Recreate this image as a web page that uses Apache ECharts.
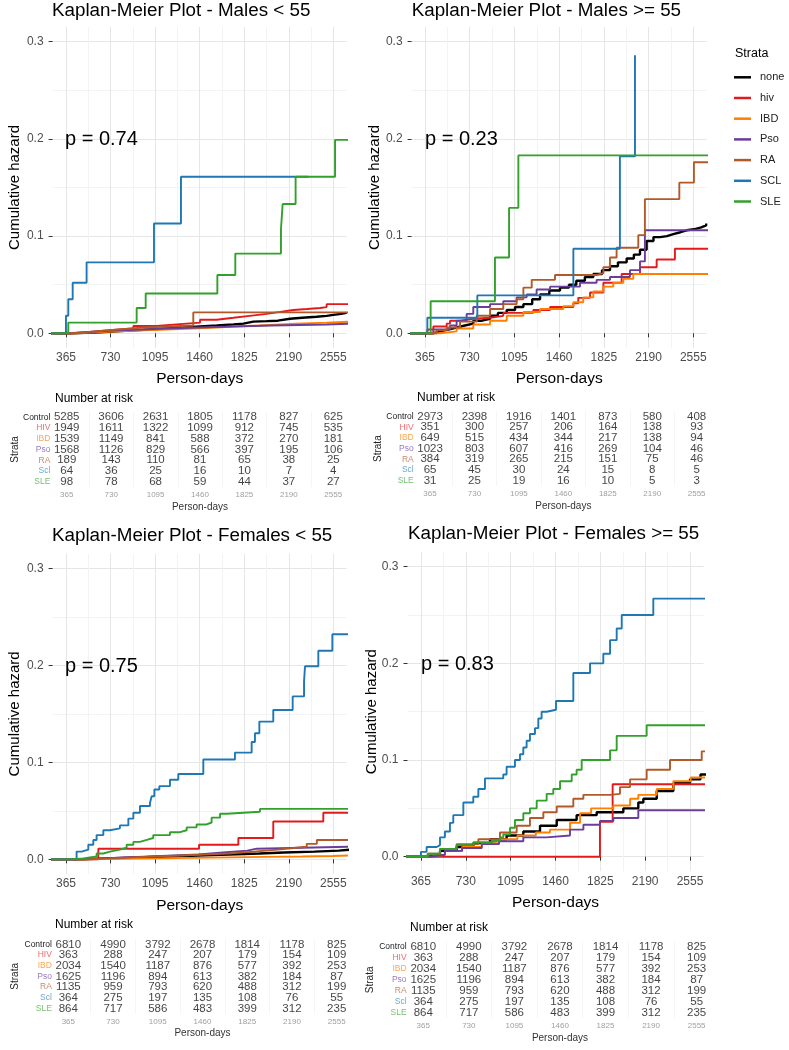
<!DOCTYPE html>
<html><head><meta charset="utf-8">
<script src="https://cdn.jsdelivr.net/npm/echarts@6/dist/echarts.min.js"></script>
<style>html,body{margin:0;padding:0;background:#fff}#c{width:789px;height:1050px}</style>
</head><body><div id="c"></div>
<script>
// ---------- ticks / categories ----------
const TIMES = [365, 730, 1095, 1460, 1825, 2190, 2555];
const MINOR_TIMES = [547.5, 912.5, 1277.5, 1642.5, 2007.5, 2372.5];
const Y_TICKS = [0, 0.1, 0.2, 0.3];
const Y_MINOR = [0.05, 0.15, 0.25];
const STRATA = ['none', 'hiv', 'IBD', 'Pso', 'RA', 'SCL', 'SLE'];
const RISK_ROWS = ['Control', 'HIV', 'IBD', 'Pso', 'RA', 'Scl', 'SLE'];
const PANEL_TITLES = ['Kaplan-Meier Plot - Males < 55', 'Kaplan-Meier Plot - Males >= 55',
  'Kaplan-Meier Plot - Females < 55', 'Kaplan-Meier Plot - Females >= 55'];
const P_VALUES = ['p = 0.74', 'p = 0.23', 'p = 0.75', 'p = 0.83'];

// ---------- cumulative hazard curves: [person-days, cumulative hazard] ----------
const malesU55_none = [[0,0],[420,0.001],[644,0.002],[780,0.003],[917,0.004],[1050,0.005],[1190,0.006],[1330,0.007],[1463,0.008],[1600,0.009],[1736,0.010],[1818,0.012],[1900,0.0125],[2009,0.013],[2100,0.015],[2200,0.016],[2300,0.017],[2418,0.018],[2500,0.019],[2555,0.020],[2620,0.021],[2660,0.022]];
const malesU55_hiv = [[0,0],[420,0.001],[520,0.002],[600,0.003],[700,0.004],[800,0.005],[917,0.0075],[1108,0.0095],[1299,0.011],[1463,0.014],[1600,0.016],[1736,0.018],[1870,0.020],[2009,0.022],[2120,0.024],[2227,0.025],[2340,0.026],[2446,0.027],[2500,0.030],[2700,0.030]];
const malesU55_IBD = [[0,0],[450,0.001],[600,0.002],[800,0.003],[1000,0.004],[1190,0.005],[1400,0.006],[1600,0.007],[1736,0.008],[1950,0.010],[2250,0.011],[2500,0.012],[2700,0.012]];
const malesU55_Pso = [[0,0],[400,0.001],[520,0.002],[644,0.003],[800,0.004],[1000,0.005],[1190,0.006],[1450,0.007],[1736,0.008],[2050,0.009],[2500,0.010],[2700,0.010]];
const malesU55_RA = [[0,0],[420,0.002],[600,0.004],[800,0.006],[1000,0.007],[1200,0.008],[1408,0.0215],[2700,0.0215]];
const malesU55_SCL = [[0,0],[365,0.018],[384,0.035],[420,0.052],[534,0.073],[1086,0.113],[1307,0.161],[2350,0.161]];
const malesU55_SLE = [[0,0],[384,0.011],[944,0.026],[1018,0.041],[1605,0.060],[1752,0.082],[2126,0.107],[2140,0.133],[2246,0.161],[2569,0.199],[2700,0.199]];

const malesO55_none = [[0,0],[430,0.002],[487,0.004],[560,0.006],[623,0.008],[690,0.010],[759,0.013],[830,0.015],[896,0.018],[960,0.021],[1032,0.024],[1100,0.027],[1168,0.030],[1240,0.035],[1304,0.040],[1380,0.044],[1467,0.047],[1540,0.050],[1600,0.054],[1670,0.058],[1739,0.061],[1810,0.065],[1875,0.069],[1940,0.073],[2011,0.077],[2070,0.081],[2120,0.086],[2174,0.095],[2230,0.099],[2283,0.100],[2340,0.102],[2392,0.104],[2450,0.106],[2501,0.107],[2560,0.109],[2620,0.111],[2660,0.113]];
const malesO55_hiv = [[0,0],[384,0.004],[433,0.007],[542,0.010],[569,0.013],[651,0.015],[759,0.016],[896,0.018],[1004,0.021],[1249,0.024],[1386,0.027],[1576,0.031],[1616,0.0365],[1712,0.042],[1821,0.052],[1970,0.061],[2120,0.068],[2256,0.076],[2405,0.087],[2700,0.087]];
const malesO55_IBD = [[0,0],[487,0.002],[623,0.005],[759,0.009],[896,0.013],[1032,0.018],[1168,0.022],[1304,0.025],[1494,0.028],[1576,0.032],[1657,0.037],[1739,0.043],[1821,0.048],[1902,0.052],[1984,0.056],[2065,0.061],[2700,0.061]];
const malesO55_Pso = [[0,0],[433,0.004],[569,0.008],[623,0.013],[705,0.020],[759,0.027],[896,0.030],[1004,0.033],[1113,0.037],[1195,0.040],[1276,0.045],[1386,0.048],[1630,0.052],[1766,0.055],[1875,0.058],[2038,0.065],[2120,0.074],[2160,0.106],[2700,0.106]];
const malesO55_RA = [[0,0],[460,0.003],[542,0.006],[651,0.012],[787,0.018],[896,0.025],[1004,0.030],[1113,0.035],[1168,0.047],[1236,0.055],[1426,0.060],[1766,0.062],[1821,0.068],[1875,0.078],[1929,0.088],[2106,0.101],[2160,0.138],[2441,0.155],[2560,0.176],[2700,0.176]];
const malesO55_SCL = [[0,0],[384,0.016],[792,0.039],[1576,0.087],[1956,0.182],[2079,0.286]];
const malesO55_SLE = [[0,0],[411,0.033],[936,0.078],[1051,0.129],[1127,0.183],[2700,0.183]];

const femalesU55_none = [[0,0],[500,0.001],[700,0.002],[950,0.003],[1200,0.004],[1450,0.005],[1700,0.006],[1950,0.007],[2150,0.008],[2400,0.009],[2600,0.010],[2700,0.010]];
const femalesU55_hiv = [[0,0],[630,0.011],[1455,0.015],[1777,0.022],[2063,0.039],[2473,0.048],[2700,0.048]];
const femalesU55_IBD = [[0,0],[500,0.0005],[800,0.001],[1100,0.0015],[1400,0.002],[1700,0.0025],[2000,0.003],[2300,0.0035],[2550,0.004],[2700,0.004]];
const femalesU55_Pso = [[0,0],[450,0.001],[650,0.002],[850,0.003],[1050,0.004],[1250,0.005],[1450,0.007],[1650,0.009],[1850,0.011],[1927,0.013],[2700,0.013]];
const femalesU55_RA = [[0,0],[500,0.001],[700,0.002],[900,0.003],[1100,0.004],[1300,0.005],[1500,0.006],[1700,0.008],[1900,0.010],[2100,0.012],[2250,0.013],[2337,0.016],[2420,0.020],[2700,0.020]];
const femalesU55_SCL = [[0,0],[452,0.008],[493,0.010],[548,0.015],[589,0.020],[616,0.025],[671,0.030],[725,0.032],[807,0.035],[876,0.042],[917,0.048],[971,0.055],[1053,0.058],[1067,0.065],[1089,0.072],[1130,0.0755],[1217,0.082],[1285,0.088],[1490,0.103],[1749,0.110],[1886,0.121],[1913,0.130],[1949,0.142],[2063,0.154],[2222,0.168],[2315,0.183],[2323,0.199],[2432,0.215],[2547,0.232],[2700,0.232]];
const femalesU55_SLE = [[0,0],[400,0.001],[507,0.003],[616,0.006],[671,0.008],[725,0.010],[807,0.012],[862,0.015],[917,0.018],[971,0.020],[1026,0.022],[1080,0.025],[1217,0.028],[1299,0.030],[1354,0.033],[1435,0.036],[1517,0.038],[1558,0.043],[1627,0.047],[1681,0.049],[1954,0.052],[2700,0.052]];

const femalesO55_none = [[0,0],[420,0.002],[520,0.006],[655,0.010],[791,0.014],[927,0.018],[1062,0.022],[1198,0.026],[1334,0.032],[1470,0.038],[1632,0.043],[1795,0.046],[2012,0.050],[2134,0.056],[2175,0.060],[2284,0.068],[2419,0.076],[2555,0.080],[2640,0.085],[2700,0.086]];
const femalesO55_hiv = [[0,0],[1822,0.036],[1925,0.075],[2700,0.075]];
const femalesO55_IBD = [[0,0],[450,0.002],[560,0.006],[700,0.010],[860,0.014],[1000,0.018],[1150,0.022],[1300,0.025],[1415,0.028],[1578,0.035],[1660,0.045],[1750,0.050],[1931,0.053],[2067,0.060],[2134,0.064],[2284,0.070],[2419,0.078],[2560,0.082],[2700,0.082]];
const femalesO55_Pso = [[0,0],[450,0.002],[560,0.006],[700,0.009],[860,0.013],[1000,0.016],[1198,0.020],[1388,0.022],[1578,0.028],[1687,0.033],[1822,0.037],[1931,0.040],[2134,0.048],[2700,0.049]];
const femalesO55_RA = [[0,0],[420,0.003],[520,0.008],[655,0.013],[832,0.018],[1008,0.025],[1144,0.032],[1252,0.040],[1361,0.046],[1470,0.052],[1605,0.060],[1687,0.064],[1904,0.065],[1985,0.072],[2067,0.080],[2202,0.090],[2392,0.100],[2609,0.100],[2650,0.109],[2700,0.109]];
const femalesO55_SCL = [[0,0],[365,0.005],[411,0.010],[493,0.012],[520,0.020],[560,0.026],[601,0.035],[628,0.043],[710,0.056],[791,0.062],[832,0.070],[886,0.081],[1035,0.085],[1062,0.093],[1130,0.100],[1171,0.106],[1198,0.113],[1225,0.120],[1252,0.127],[1293,0.133],[1320,0.143],[1347,0.150],[1388,0.152],[1464,0.161],[1605,0.190],[1741,0.200],[1849,0.210],[1904,0.224],[1958,0.236],[1999,0.250],[2256,0.267],[2700,0.267]];
const femalesO55_SLE = [[0,0],[420,0.003],[520,0.008],[655,0.012],[791,0.015],[927,0.017],[1008,0.020],[1035,0.023],[1090,0.030],[1130,0.038],[1198,0.045],[1252,0.050],[1307,0.058],[1388,0.065],[1442,0.070],[1497,0.078],[1592,0.085],[1632,0.090],[1673,0.100],[1904,0.110],[1958,0.125],[2202,0.136],[2700,0.136]];

// ---------- number at risk (rows: Control, HIV, IBD, Pso, RA, Scl, SLE) ----------
const riskMalesU55_Control = [5285,3606,2631,1805,1178,827,625];
const riskMalesU55_HIV = [1949,1611,1322,1099,912,745,535];
const riskMalesU55_IBD = [1539,1149,841,588,372,270,181];
const riskMalesU55_Pso = [1568,1126,829,566,397,195,106];
const riskMalesU55_RA = [189,143,110,81,65,38,25];
const riskMalesU55_Scl = [64,36,25,16,10,7,4];
const riskMalesU55_SLE = [98,78,68,59,44,37,27];

const riskMalesO55_Control = [2973,2398,1916,1401,873,580,408];
const riskMalesO55_HIV = [351,300,257,206,164,138,93];
const riskMalesO55_IBD = [649,515,434,344,217,138,94];
const riskMalesO55_Pso = [1023,803,607,416,269,104,46];
const riskMalesO55_RA = [384,319,265,215,151,75,46];
const riskMalesO55_Scl = [65,45,30,24,15,8,5];
const riskMalesO55_SLE = [31,25,19,16,10,5,3];

const riskFemalesU55_Control = [6810,4990,3792,2678,1814,1178,825];
const riskFemalesU55_HIV = [363,288,247,207,179,154,109];
const riskFemalesU55_IBD = [2034,1540,1187,876,577,392,253];
const riskFemalesU55_Pso = [1625,1196,894,613,382,184,87];
const riskFemalesU55_RA = [1135,959,793,620,488,312,199];
const riskFemalesU55_Scl = [364,275,197,135,108,76,55];
const riskFemalesU55_SLE = [864,717,586,483,399,312,235];

const riskFemalesO55_Control = [6810,4990,3792,2678,1814,1178,825];
const riskFemalesO55_HIV = [363,288,247,207,179,154,109];
const riskFemalesO55_IBD = [2034,1540,1187,876,577,392,253];
const riskFemalesO55_Pso = [1625,1196,894,613,382,184,87];
const riskFemalesO55_RA = [1135,959,793,620,488,312,199];
const riskFemalesO55_Scl = [364,275,197,135,108,76,55];
const riskFemalesO55_SLE = [864,717,586,483,399,312,235];

// ---------- assembly ----------
const PANELS = [
  { curves: [malesU55_none, malesU55_hiv, malesU55_IBD, malesU55_Pso, malesU55_RA, malesU55_SCL, malesU55_SLE],
    risk: [riskMalesU55_Control, riskMalesU55_HIV, riskMalesU55_IBD, riskMalesU55_Pso, riskMalesU55_RA, riskMalesU55_Scl, riskMalesU55_SLE] },
  { curves: [malesO55_none, malesO55_hiv, malesO55_IBD, malesO55_Pso, malesO55_RA, malesO55_SCL, malesO55_SLE],
    risk: [riskMalesO55_Control, riskMalesO55_HIV, riskMalesO55_IBD, riskMalesO55_Pso, riskMalesO55_RA, riskMalesO55_Scl, riskMalesO55_SLE] },
  { curves: [femalesU55_none, femalesU55_hiv, femalesU55_IBD, femalesU55_Pso, femalesU55_RA, femalesU55_SCL, femalesU55_SLE],
    risk: [riskFemalesU55_Control, riskFemalesU55_HIV, riskFemalesU55_IBD, riskFemalesU55_Pso, riskFemalesU55_RA, riskFemalesU55_Scl, riskFemalesU55_SLE] },
  { curves: [femalesO55_none, femalesO55_hiv, femalesO55_IBD, femalesO55_Pso, femalesO55_RA, femalesO55_SCL, femalesO55_SLE],
    risk: [riskFemalesO55_Control, riskFemalesO55_HIV, riskFemalesO55_IBD, riskFemalesO55_Pso, riskFemalesO55_RA, riskFemalesO55_Scl, riskFemalesO55_SLE] }
];

// styles & layout
const COLORS = ['#000000', '#E31A1C', '#FF7F00', '#6A3D9A', '#B15928', '#1F78B4', '#33A02C'];
const LINE_W = [2.4, 1.9, 1.9, 1.9, 1.9, 1.9, 1.9];
const ROW_COLORS = ['#222222', '#EE6E70', '#FFA64D', '#9A7BBF', '#CB8A66', '#6FA7D0', '#74C36E'];
const X_MIN = 255.5, X_MAX = 2664.5, Y_MIN = -0.015, Y_MAX = 0.315;
const PLOT_BOX = [
  { left: 52.6, top: 27.1, width: 294.1, height: 320.8, nameGapY: 30, nameGapX: 22.6 },
  { left: 411.6, top: 27.1, width: 295.1, height: 320.8, nameGapY: 29, nameGapX: 22.6 },
  { left: 52.6, top: 553.8, width: 294.1, height: 320.1, nameGapY: 30, nameGapX: 23.4 },
  { left: 407.5, top: 552.2, width: 296, height: 319, nameGapY: 28.3, nameGapX: 23.4 }
];
const RISK_BOX = [
  { left: 53.4, top: 411.9, width: 293.2, height: 75.1, nameGapY: 33.4 },
  { left: 416.7, top: 411.3, width: 293.3, height: 74.7, nameGapY: 33.4 },
  { left: 54.9, top: 939, width: 295.2, height: 74.7, nameGapY: 34.9 },
  { left: 409.6, top: 941.5, width: 300.7, height: 76.7, nameGapY: 34.6 }
];
const TITLE_POS = [[52, 1], [411.7, 1], [52, 526], [408, 524]];
const PVAL_POS = [[65, 129.3], [425, 129], [65, 656.7], [421, 654.3]];
const NRISK_POS = [[55, 393], [417, 392], [55, 919], [410, 922]];

const FONT = 'Liberation Sans, Arial, Helvetica, sans-serif';
const grids = [], xAxes = [], yAxes = [], series = [], titles = [];
const plain = v => String(Math.round(v));

PANELS.forEach((P, p) => {
  const b = PLOT_BOX[p];
  grids.push({ left: b.left, top: b.top, width: b.width, height: b.height, containLabel: false, outerBoundsMode: 'none' });
  const gi = grids.length - 1;
  const xi = xAxes.length, yi = yAxes.length;
  xAxes.push({ gridIndex: gi, type: 'value', min: X_MIN, max: X_MAX, position: 'bottom',
    name: 'Person-days', nameLocation: 'middle', nameGap: b.nameGapX, nameMoveOverlap: false,
    nameTextStyle: { fontSize: 15.5, color: '#000', fontFamily: FONT },
    axisLine: { show: false },
    axisTick: { show: true, length: 4, lineStyle: { color: '#333', width: 1 }, customValues: TIMES },
    axisLabel: { customValues: TIMES, formatter: plain, fontSize: 12, color: '#4d4d4d', margin: 4, fontFamily: FONT },
    splitLine: { show: true, lineStyle: { color: '#e6e6e6', width: 1 } } });
  xAxes.push({ gridIndex: gi, type: 'value', min: X_MIN, max: X_MAX, position: 'top',
    axisLine: { show: false }, axisTick: { show: false, customValues: MINOR_TIMES },
    axisLabel: { show: false, customValues: MINOR_TIMES },
    splitLine: { show: true, lineStyle: { color: '#f3f3f3', width: 1 } } });
  yAxes.push({ gridIndex: gi, type: 'value', min: Y_MIN, max: Y_MAX, position: 'left',
    name: 'Cumulative hazard', nameLocation: 'middle', nameRotate: 90, nameGap: b.nameGapY, nameMoveOverlap: false,
    nameTextStyle: { fontSize: 15, color: '#000', fontFamily: FONT },
    axisLine: { show: false },
    axisTick: { show: true, length: 4, lineStyle: { color: '#333', width: 1 }, customValues: Y_TICKS },
    axisLabel: { customValues: Y_TICKS, formatter: v => Number(v).toFixed(1), fontSize: 12, color: '#4d4d4d', margin: 9, fontFamily: FONT },
    splitLine: { show: true, lineStyle: { color: '#e6e6e6', width: 1 } } });
  yAxes.push({ gridIndex: gi, type: 'value', min: Y_MIN, max: Y_MAX, position: 'right',
    axisLine: { show: false }, axisTick: { show: false, customValues: Y_MINOR },
    axisLabel: { show: false, customValues: Y_MINOR },
    splitLine: { show: true, lineStyle: { color: '#f3f3f3', width: 1 } } });
  P.curves.forEach((curve, s) => {
    series.push({ type: 'line', name: STRATA[s], xAxisIndex: xi, yAxisIndex: yi, data: curve,
      step: 'end', symbol: 'none', showSymbol: false, clip: true, silent: true, z: 3,
      lineStyle: { width: LINE_W[s], color: COLORS[s] }, itemStyle: { color: COLORS[s] },
      emphasis: { disabled: true } });
  });

  // risk table
  const r = RISK_BOX[p];
  grids.push({ left: r.left, top: r.top, width: r.width, height: r.height, containLabel: false, outerBoundsMode: 'none' });
  const rg = grids.length - 1;
  const rxi = xAxes.length, ryi = yAxes.length;
  xAxes.push({ gridIndex: rg, type: 'value', min: X_MIN, max: X_MAX, position: 'bottom',
    name: 'Person-days', nameLocation: 'middle', nameGap: 15, nameMoveOverlap: false,
    nameTextStyle: { fontSize: 10, color: '#333', fontFamily: FONT },
    axisLine: { show: false }, axisTick: { show: false, customValues: TIMES },
    axisLabel: { customValues: TIMES, formatter: plain, fontSize: 8, color: '#a0a0a0', margin: 4, fontFamily: FONT },
    splitLine: { show: true, lineStyle: { color: '#f0f0f0', width: 1 } } });
  xAxes.push({ gridIndex: rg, type: 'value', min: X_MIN, max: X_MAX, position: 'top',
    axisLine: { show: false }, axisTick: { show: false, customValues: MINOR_TIMES },
    axisLabel: { show: false, customValues: MINOR_TIMES },
    splitLine: { show: true, lineStyle: { color: '#f5f5f5', width: 1 } } });
  yAxes.push({ gridIndex: rg, type: 'category', data: RISK_ROWS, inverse: true, position: 'left',
    name: 'Strata', nameLocation: 'middle', nameRotate: 90, nameGap: r.nameGapY, nameMoveOverlap: false,
    nameTextStyle: { fontSize: 10, color: '#222', fontFamily: FONT },
    axisLine: { show: false }, axisTick: { show: false },
    axisLabel: { fontSize: 8.5, margin: 3, fontFamily: FONT, interval: 0, color: (v, i) => ROW_COLORS[i] },
    splitLine: { show: false } });
  const pts = [];
  P.risk.forEach((row, ri) => row.forEach((n, c) => pts.push([TIMES[c], RISK_ROWS[ri], n])));
  series.push({ type: 'scatter', xAxisIndex: rxi, yAxisIndex: ryi, data: pts, symbolSize: 1,
    itemStyle: { color: 'rgba(0,0,0,0)' }, silent: true,
    label: { show: true, position: 'inside', formatter: q => String(q.data[2]), fontSize: 11.5, color: '#111', fontFamily: FONT },
    emphasis: { disabled: true } });

  titles.push({ text: PANEL_TITLES[p], left: TITLE_POS[p][0], top: TITLE_POS[p][1], padding: 0,
    textStyle: { fontSize: 18.8, fontWeight: 'normal', color: '#000', fontFamily: FONT } });
  titles.push({ text: P_VALUES[p], left: PVAL_POS[p][0], top: PVAL_POS[p][1], padding: 0,
    textStyle: { fontSize: 20, fontWeight: 'normal', color: '#000', fontFamily: FONT } });
  titles.push({ text: 'Number at risk', left: NRISK_POS[p][0], top: NRISK_POS[p][1], padding: 0,
    textStyle: { fontSize: 12, fontWeight: 'normal', color: '#000', fontFamily: FONT } });
});
titles.push({ text: 'Strata', left: 735, top: 47.5, padding: 0,
  textStyle: { fontSize: 12.5, fontWeight: 'normal', color: '#000', fontFamily: FONT } });

const chart = echarts.init(document.getElementById('c'), null, { renderer: 'canvas' });
chart.setOption({
  animation: false,
  backgroundColor: '#fff',
  textStyle: { fontFamily: FONT },
  title: titles,
  legend: { data: STRATA, orient: 'vertical', left: 734, top: 70.3, padding: 0, itemWidth: 17, itemHeight: 2.5,
    itemGap: 6.7, icon: 'rect', selectedMode: false,
    textStyle: { fontSize: 11, color: '#222', lineHeight: 14, padding: [0, 0, 0, 4], fontFamily: FONT } },
  grid: grids, xAxis: xAxes, yAxis: yAxes, series: series
});
</script></body></html>
